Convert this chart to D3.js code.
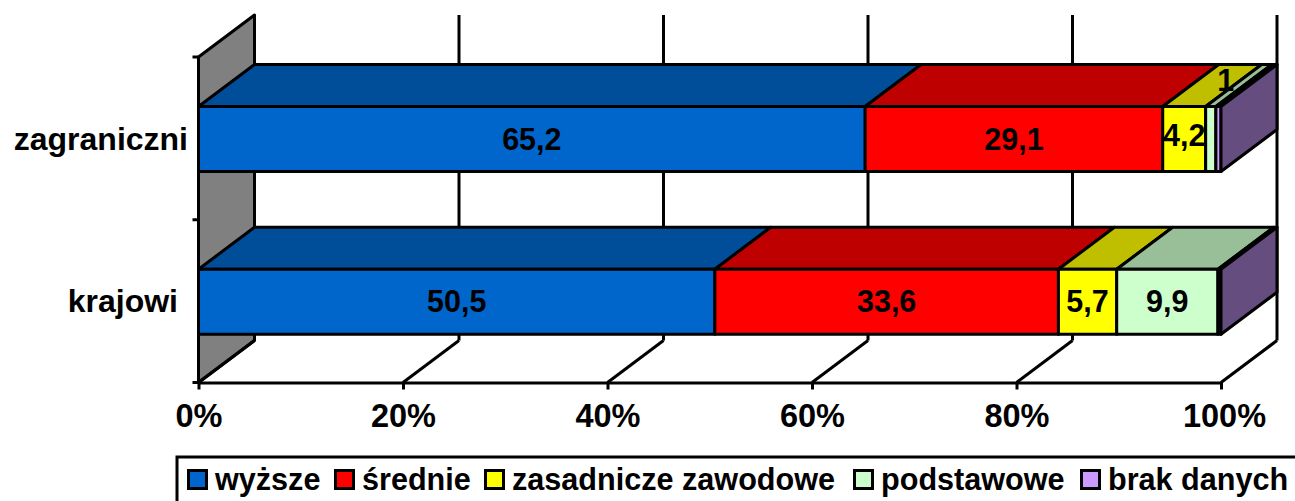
<!DOCTYPE html>
<html>
<head>
    <meta charset="utf-8">
    <title>Wykształcenie</title>
    <script src="https://d3js.org/d3.v7.min.js"></script>
    <style>
        html, body { margin: 0; padding: 0; background: #fff; overflow: hidden; }
        svg { display: block; }
        text { font-family: "Liberation Sans", Arial, sans-serif; font-weight: bold; fill: #000; }
    </style>
</head>
<body>
<script>
    // data
    var categories = ["zagraniczni", "krajowi"];
    var seriesNames = ["wyższe", "średnie", "zasadnicze zawodowe", "podstawowe", "brak danych"];
    var seriesColors = ["#0066cc", "#ff0000", "#ffff00", "#ccffcc", "#cc99ff"];
    var zagraniczni = [65.2, 29.1, 4.2, 1, 0.5];
    var krajowi = [50.5, 33.6, 5.7, 9.9, 0.3];
    var tickValues = [0, 20, 40, 60, 80, 100];

    var width = 1295, height = 501;
    var depthX = 56, depthY = 42;   // 3d offset of the back wall

    var svg = d3.select("body").append("svg").attr("width", width).attr("height", height);

    var x = d3.scaleLinear().domain([0, 100]).range([198.5, 1221]);
    // plot runs from 57 (top of front plane) to 382 (floor)
    var y = d3.scaleBand().domain(categories).range([57, 382.5]);
    var barTop = function(c) { return y(c) + 49.5; };
    var barHeight = 65;

    function poly(points, fill, sw) {
        svg.append("polygon")
            .attr("points", points.map(p => p.join(",")).join(" "))
            .attr("fill", fill)
            .attr("stroke", "#000")
            .attr("stroke-width", sw === undefined ? 3 : sw)
            .attr("stroke-linejoin", "round");
    }

    function shade(color, k) {
        var c = d3.rgb(color);
        return d3.rgb(c.r * k, c.g * k, c.b * k).formatHex();
    }

    function line(x1, y1, x2, y2) {
        svg.append("line")
            .attr("x1", x1).attr("y1", y1).attr("x2", x2).attr("y2", y2)
            .attr("stroke", "#000").attr("stroke-width", 3);
    }

    var yTop = y.range()[0], yBottom = y.range()[1];

    // left wall
    poly([[x(0), yBottom], [x(0), yTop], [x(0) + depthX, yTop - depthY], [x(0) + depthX, yBottom - depthY]], "#808080");

    // gridlines on back wall and floor
    tickValues.forEach(function(t) {
        if (t > 0) {
            line(x(t) + depthX, yTop - depthY, x(t) + depthX, yBottom - depthY);
            line(x(t), yBottom, x(t) + depthX, yBottom - depthY);
        }
    });
    line(x(0), yBottom, x(0) + depthX, yBottom - depthY);

    // axes
    var xAxis = d3.axisBottom(x).tickValues(tickValues).tickFormat(d => d + "%").tickSize(7).tickPadding(14).tickSizeOuter(0);
    var xg = svg.append("g").attr("transform", "translate(0," + yBottom + ")").call(xAxis);
    xg.select(".domain").attr("stroke", "#000").attr("stroke-width", 3);
    xg.selectAll(".tick line").attr("stroke", "#000").attr("stroke-width", 3);
    xg.selectAll("text")
        .style("font-size", "32.5px")
        .attr("fill", "#000")
        .attr("dx", d => d === 100 ? 3 : 0);

    line(x(0) - 6, yTop, x(0), yTop);
    line(x(0) - 6, (yTop + yBottom) / 2, x(0), (yTop + yBottom) / 2);
    line(x(0) - 6, yBottom, x(0), yBottom);

    // bars
    var rows = {zagraniczni: zagraniczni, krajowi: krajowi};
    // the labels that got moved by hand in the original
    var labelNudge = {"zagraniczni": {2: [0, -4], 3: [15, -59]}, "krajowi": {}};

    categories.forEach(function(cat) {
        var vals = rows[cat];
        var t = barTop(cat), b = t + barHeight;
        var acc = 0;
        var segs = vals.map(function(v) { var s = {from: acc, to: acc + v, v: v}; acc += v; return s; });
        segs.forEach(function(s, i) {
            var x0 = x(s.from), x1 = x(s.to);
            // top face
            poly([[x0, t], [x1, t], [x1 + depthX, t - depthY], [x0 + depthX, t - depthY]], shade(seriesColors[i], 0.75));
        });
        segs.forEach(function(s, i) {
            var x0 = x(s.from), x1 = x(s.to);
            // front face
            poly([[x0, t], [x1, t], [x1, b], [x0, b]], seriesColors[i]);
        });
        // right side of the last segment
        var xe = x(100);
        poly([[xe, t], [xe + depthX, t - depthY], [xe + depthX, b - depthY], [xe, b]], shade(seriesColors[4], 0.5));

        segs.forEach(function(s, i) {
            if (s.v < 1) return;
            var n = labelNudge[cat][i] || [0, 0];
            svg.append("text")
                .attr("x", x((s.from + s.to) / 2) + n[0])
                .attr("y", t + 43 + n[1])
                .attr("text-anchor", "middle")
                .style("font-size", "30.5px")
                .text(String(s.v).replace(".", ","));
        });
    });

    // category labels
    var catLabelRight = {"zagraniczni": 188, "krajowi": 178};
    categories.forEach(function(cat) {
        svg.append("text")
            .attr("x", catLabelRight[cat])
            .attr("y", barTop(cat) + 43)
            .attr("text-anchor", "end")
            .style("font-size", "32px")
            .text(cat);
    });

    // legend, box runs past the bottom and right edge like in the picture
    svg.append("rect")
        .attr("x", 177).attr("y", 457).attr("width", 1130).attr("height", 60)
        .attr("fill", "#fff").attr("stroke", "#000").attr("stroke-width", 3);

    var legendX = [187, 334, 484, 853, 1080];
    seriesNames.forEach(function(name, i) {
        svg.append("rect")
            .attr("x", legendX[i] + 1.5).attr("y", 470.5).attr("width", 18).attr("height", 18)
            .attr("fill", seriesColors[i]).attr("stroke", "#000").attr("stroke-width", 3);
        svg.append("text")
            .attr("x", legendX[i] + 28)
            .attr("y", 490)
            .style("font-size", "30.6px")
            .text(name);
    });
</script>
</body>
</html>
